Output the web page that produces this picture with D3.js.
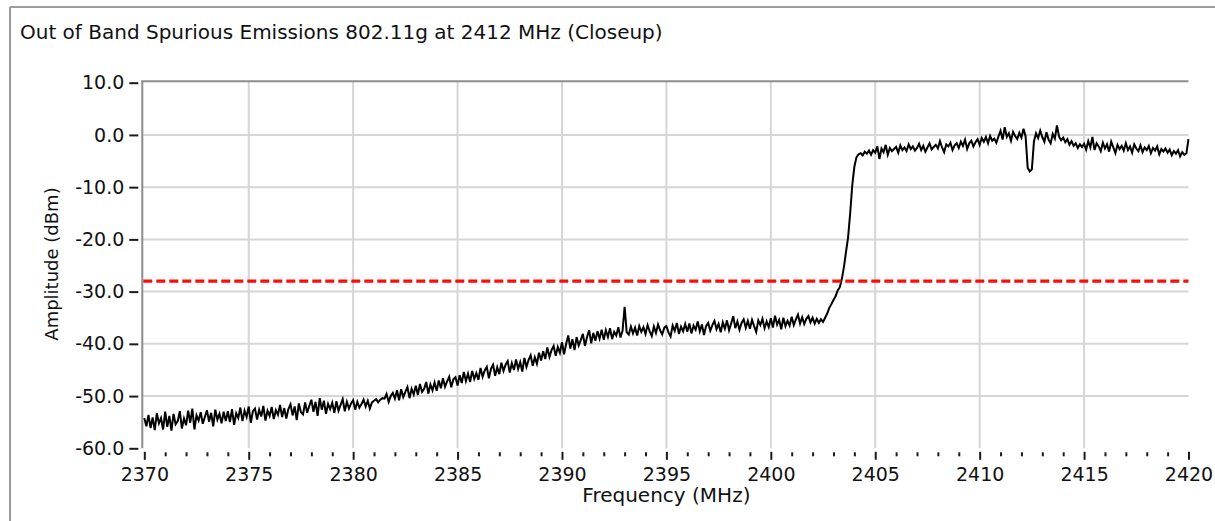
<!DOCTYPE html>
<html>
<head>
<meta charset="utf-8">
<script src="https://cdn.jsdelivr.net/npm/d3@7"></script>
<style>
  html, body { margin: 0; padding: 0; background: #ffffff; }
  svg { display: block; }
  text { font-family: Tahoma, "DejaVu Sans", Verdana, sans-serif; fill: #111; }
</style>
</head>
<body>
<svg id="chart" width="1215" height="521"></svg>
<script>
// Chart text
const chartTitle = "Out of Band Spurious Emissions 802.11g at 2412 MHz (Closeup)";
const xAxisTitle = "Frequency (MHz)";
const yAxisTitle = "Amplitude (dBm)";

// Axis ticks
const xMajorTicks = [2370, 2375, 2380, 2385, 2390, 2395, 2400, 2405, 2410, 2415, 2420];
const xMinorTicks = [2371, 2372, 2373, 2374, 2376, 2377, 2378, 2379, 2381, 2382, 2383, 2384,
  2386, 2387, 2388, 2389, 2391, 2392, 2393, 2394, 2396, 2397, 2398, 2399,
  2401, 2402, 2403, 2404, 2406, 2407, 2408, 2409, 2411, 2412, 2413, 2414,
  2416, 2417, 2418, 2419];
const yTicks = [10, 0, -10, -20, -30, -40, -50, -60];
const yTickLabels = ["10.0", "0.0", "-10.0", "-20.0", "-30.0", "-40.0", "-50.0", "-60.0"];

// Spectrum sweep: first frequency and bin spacing (MHz)
const sweepStart = 2370;
const sweepStep = 0.1;

// Measured amplitude per bin (dBm), one row per MHz
const amplitude = [
  -54.2,-55.8,-53.6,-56.1,-54.1,-56.5,-53.3,-55.2,-54.2,-56.4,
  -53.0,-55.9,-53.8,-56.6,-53.4,-55.4,-54.8,-52.9,-56.2,-54.3,
  -55.6,-52.8,-55.1,-52.4,-56.4,-53.7,-54.7,-53.1,-55.3,-54.0,
  -52.7,-54.9,-53.2,-55.8,-52.6,-54.5,-53.4,-55.2,-53.0,-54.8,
  -52.9,-55.0,-52.5,-55.5,-53.3,-54.2,-52.2,-54.8,-52.8,-54.0,
  -52.0,-55.1,-52.9,-52.4,-54.5,-52.6,-53.9,-51.9,-54.7,-52.8,
  -53.8,-52.1,-54.4,-52.7,-53.6,-51.7,-54.0,-52.3,-54.3,-52.5,
  -51.6,-53.7,-52.0,-54.6,-51.4,-53.1,-53.5,-51.2,-53.2,-51.9,
  -50.7,-53.0,-51.1,-53.8,-50.4,-52.6,-50.9,-53.4,-51.5,-52.5,
  -51.3,-53.2,-51.0,-52.8,-51.7,-50.6,-52.9,-51.1,-52.4,-51.4,
  -50.8,-52.6,-51.1,-52.2,-51.5,-50.7,-52.0,-50.9,-52.4,-51.2,
  -50.9,-50.6,-51.2,-50.7,-50.4,-50.5,-49.6,-51.1,-50.0,-49.4,
  -50.5,-48.9,-50.8,-48.7,-50.2,-49.2,-48.3,-50.4,-48.6,-49.7,
  -48.0,-49.8,-47.7,-49.2,-48.6,-47.3,-49.5,-47.8,-48.9,-47.4,
  -49.0,-47.0,-48.5,-46.6,-48.2,-47.2,-46.3,-48.3,-46.8,-46.4,
  -48.0,-46.0,-47.5,-45.4,-47.1,-45.7,-47.3,-45.2,-46.7,-45.6,
  -46.9,-44.6,-46.3,-45.1,-44.4,-46.6,-44.8,-44.0,-46.1,-44.5,
  -45.8,-43.6,-45.2,-44.0,-43.3,-45.5,-43.7,-45.0,-43.0,-44.8,
  -43.5,-45.3,-42.7,-44.4,-43.1,-42.2,-44.2,-42.6,-43.8,-41.7,
  -43.2,-41.4,-42.9,-40.7,-42.5,-41.2,-40.4,-42.3,-40.6,-41.7,
  -39.7,-42.0,-40.0,-38.4,-40.9,-39.1,-41.2,-38.7,-40.3,-39.3,
  -38.1,-40.4,-38.7,-37.4,-39.9,-37.9,-39.4,-37.6,-39.0,-37.3,
  -39.2,-37.4,-38.7,-37.0,-39.1,-37.7,-38.4,-36.8,-38.8,-37.5,
  -32.9,-37.8,-38.2,-36.7,-38.0,-36.9,-38.4,-36.6,-37.7,-36.8,
  -38.1,-36.4,-37.6,-38.5,-36.7,-37.9,-36.3,-37.4,-38.2,-36.9,
  -36.6,-37.8,-38.6,-36.5,-37.5,-36.0,-38.1,-36.7,-37.6,-36.2,
  -37.7,-36.1,-38.0,-36.5,-37.3,-35.7,-37.6,-36.3,-38.3,-36.6,
  -36.0,-37.5,-36.4,-35.6,-37.2,-36.2,-37.8,-35.9,-37.1,-35.5,
  -37.4,-36.1,-34.7,-37.0,-35.7,-37.3,-36.0,-35.3,-36.9,-35.6,
  -37.1,-35.4,-36.6,-37.7,-35.5,-36.4,-35.2,-37.0,-35.7,-36.8,
  -35.1,-36.9,-34.6,-36.3,-35.4,-37.2,-35.0,-36.6,-35.6,-36.5,
  -34.8,-36.4,-35.3,-34.4,-36.1,-34.9,-36.2,-35.2,-34.7,-35.9,
  -35.0,-36.1,-35.2,-36.0,-35.3,-35.8,-35.0,-34.2,-33.1,-32.4,
  -31.6,-30.9,-29.8,-29.2,-27.6,-25.3,-22.4,-19.6,-15.0,-9.6,
  -6.1,-4.3,-3.7,-3.5,-3.9,-3.2,-3.6,-3.0,-3.8,-2.9,
  -3.4,-2.2,-4.6,-2.6,-3.3,-1.9,-3.8,-2.5,-3.1,-2.7,
  -2.3,-3.4,-2.0,-2.9,-2.4,-3.1,-1.8,-2.7,-2.2,-3.0,
  -2.5,-1.7,-2.9,-2.1,-3.2,-2.4,-1.6,-2.8,-2.3,-1.9,
  -2.6,-1.2,-2.4,-3.3,-1.8,-2.2,-1.5,-2.9,-2.0,-1.6,
  -2.5,-1.3,-2.1,-0.9,-2.7,-1.6,-1.1,-2.2,-1.4,-0.8,
  -1.9,-0.6,-1.3,-0.4,-1.6,-0.2,-1.1,-0.7,-1.5,-0.3,
  0.8,-0.9,1.5,-0.4,0.3,-1.1,0.6,-0.2,-0.8,0.4,
  -0.5,1.2,-0.3,-6.3,-7.0,-6.6,-1.2,0.3,-0.6,0.8,
  -0.4,-1.3,0.5,-0.9,-1.6,0.2,-0.7,1.8,-0.3,-1.0,
  -0.5,-1.4,-0.8,-1.9,-1.2,-2.1,-1.6,-2.5,-1.8,-2.3,
  -1.7,-2.8,-1.2,-2.4,-0.4,-2.9,-1.6,-2.2,-3.1,-1.5,
  -2.6,-1.8,-3.2,-1.3,-2.4,-3.5,-1.9,-2.7,-2.1,-3.0,
  -1.6,-2.9,-2.2,-3.4,-1.8,-2.6,-3.1,-2.0,-3.3,-2.4,
  -2.9,-2.1,-3.5,-2.5,-3.0,-2.2,-3.7,-2.7,-3.2,-2.6,
  -3.4,-2.8,-3.9,-3.1,-3.6,-2.9,-4.1,-3.3,-3.8,-3.5,
  -0.8
];

// Emission limit (dBm)
const limitLevel = [-28];

const svg = d3.select("#chart");

const x = d3.scaleLinear().domain([2370, 2420]).range([144.3, 1188.5]);
const y = d3.scaleLinear().domain([-60, 10]).range([448.3, 82.7]);

const plotLeft = 142.3, plotTop = 81.2;

// Outer panel edge
svg.append("line").attr("x1", 10).attr("x2", 1215).attr("y1", 7).attr("y2", 7)
  .attr("stroke", "#9c9c9c").attr("stroke-width", 2);
svg.append("line").attr("x1", 10).attr("x2", 10).attr("y1", 7).attr("y2", 521)
  .attr("stroke", "#9c9c9c").attr("stroke-width", 2);

// Title
svg.append("text").attr("x", 20).attr("y", 38.5)
  .style("font-size", "20px").text(chartTitle);

// Grid
const grid = svg.append("g").attr("stroke", "#d6d6d6").attr("stroke-width", 2);
grid.selectAll("line.h").data(yTicks.filter(v => v < 10 && v > -60)).enter()
  .append("line").attr("class", "h")
  .attr("x1", plotLeft).attr("x2", x(2420))
  .attr("y1", d => y(d)).attr("y2", d => y(d));
grid.selectAll("line.v").data(xMajorTicks.filter(v => v > 2370 && v < 2420)).enter()
  .append("line").attr("class", "v")
  .attr("x1", d => x(d)).attr("x2", d => x(d))
  .attr("y1", plotTop).attr("y2", y(-60));

// Plot frame (top and left edges)
svg.append("line").attr("x1", plotLeft - 1).attr("x2", x(2420)).attr("y1", plotTop).attr("y2", plotTop)
  .attr("stroke", "#8c8c8c").attr("stroke-width", 2);
svg.append("line").attr("x1", plotLeft).attr("x2", plotLeft).attr("y1", plotTop).attr("y2", y(-60))
  .attr("stroke", "#8c8c8c").attr("stroke-width", 2);

// Spectrum trace
const sweep = amplitude.map((v, i) => ({ f: sweepStart + i * sweepStep, v: v }));
const line = d3.line().x(d => x(d.f)).y(d => y(d.v));
svg.append("path").datum(sweep)
  .attr("d", line)
  .attr("fill", "none")
  .attr("stroke", "#000")
  .attr("stroke-width", 2)
  .attr("stroke-linejoin", "miter");

// Limit line
svg.selectAll("line.limit").data(limitLevel).enter()
  .append("line").attr("class", "limit")
  .attr("x1", plotLeft + 1).attr("x2", x(2420))
  .attr("y1", d => y(d)).attr("y2", d => y(d))
  .attr("stroke", "#ff0a0a").attr("stroke-width", 3.2)
  .attr("stroke-dasharray", "9,4");

// X axis ticks, drawn below the plot with a small gap
const xAxisMajor = d3.axisBottom(x).tickValues(xMajorTicks).tickSize(8).tickPadding(8)
  .tickFormat(d3.format("d"));
const gxMajor = svg.append("g").attr("transform", `translate(0,${y(-60) + 3.5})`).call(xAxisMajor);
gxMajor.select(".domain").remove();
gxMajor.selectAll(".tick line").attr("stroke", "#1a1a1a").attr("stroke-width", 2);
gxMajor.selectAll(".tick text").style("font-size", "19px").attr("fill", "#111")
  .attr("font-family", null);

const xAxisMinor = d3.axisBottom(x).tickValues(xMinorTicks).tickSize(4).tickFormat("");
const gxMinor = svg.append("g").attr("transform", `translate(0,${y(-60) + 4})`).call(xAxisMinor);
gxMinor.select(".domain").remove();
gxMinor.selectAll(".tick line").attr("stroke", "#1a1a1a").attr("stroke-width", 2);

// Y axis ticks, as dashes left of the frame (labels use a plain hyphen)
const yAxis = d3.axisLeft(y).tickValues(yTicks).tickSize(9).tickPadding(5)
  .tickFormat((d, i) => yTickLabels[i]);
const gy = svg.append("g").attr("transform", `translate(${plotLeft - 4},0)`).call(yAxis);
gy.select(".domain").remove();
gy.selectAll(".tick line").attr("stroke", "#1a1a1a").attr("stroke-width", 2);
gy.selectAll(".tick text").style("font-size", "19px").attr("fill", "#111")
  .attr("font-family", null);

// Axis titles
svg.append("text").attr("x", x(2395)).attr("y", 502)
  .attr("text-anchor", "middle").style("font-size", "20px").text(xAxisTitle);
svg.append("text")
  .attr("transform", "translate(57.5,264) rotate(-90)")
  .attr("text-anchor", "middle").style("font-size", "18px").text(yAxisTitle);
</script>
</body>
</html>
